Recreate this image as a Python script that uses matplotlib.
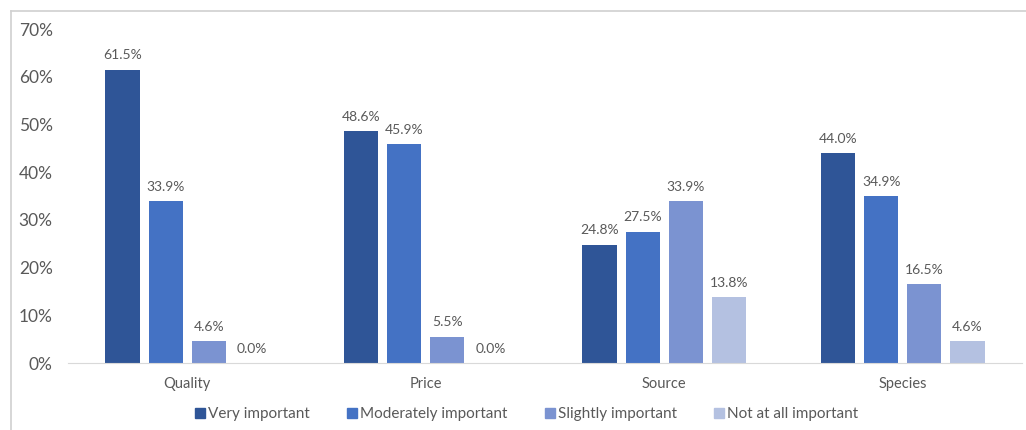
import numpy as np
import matplotlib.pyplot as plt
from matplotlib.lines import Line2D

plt.rcParams['font.family'] = ['Lato', 'DejaVu Sans']

categories = ["Quality", "Price", "Source", "Species"]
series_names = ["Very important", "Moderately important",
                "Slightly important", "Not at all important"]
very = [61.5, 48.6, 24.8, 44.0]
moderately = [33.9, 45.9, 27.5, 34.9]
slightly = [4.6, 5.5, 33.9, 16.5]
not_at_all = [0.0, 0.0, 13.8, 4.6]
y_ticks = [0, 10, 20, 30, 40, 50, 60, 70]

colors = ["#2F5597", "#4472C4", "#7B93D1", "#B4C1E1"]
text_grey = "#595959"

W, H = 1026, 430
fig = plt.figure(figsize=(W / 100, H / 100), dpi=100)
ax = fig.add_axes([68 / W, 1 - 363 / H, (1022 - 68) / W, (363 - 29) / H])

x = np.arange(len(categories))
width = 0.143
step = 0.181
offsets = (np.arange(4) - 1.5) * step

for vals, off, col, name in zip([very, moderately, slightly, not_at_all],
                                offsets, colors, series_names):
    bars = ax.bar(x + off, vals, width, color=col, label=name, zorder=2)
    for b, v in zip(bars, vals):
        ax.annotate(f"{v:.1f}%", (b.get_x() + b.get_width() / 2, v),
                    xytext=(0, 6), textcoords="offset points",
                    ha="center", va="bottom", fontsize=10, color=text_grey)

ax.set_xlim(-0.5, len(categories) - 0.5)
ax.set_ylim(0, 70)
ax.set_yticks(y_ticks)
ax.set_yticklabels([f"{t}%" for t in y_ticks], fontsize=12.5, color=text_grey)
ax.set_xticks(x)
ax.set_xticklabels(categories, fontsize=10.5, color=text_grey)
ax.tick_params(axis="both", length=0)
ax.tick_params(axis="y", pad=11)
ax.tick_params(axis="x", pad=10)

for side in ["top", "right", "left"]:
    ax.spines[side].set_visible(False)
ax.spines["bottom"].set_color("#D9D9D9")

handles = [Line2D([0], [0], marker="s", linestyle="none", markersize=7,
                  markerfacecolor=c, markeredgecolor=c) for c in colors]
fig.legend(handles, series_names, loc="center", bbox_to_anchor=(526 / W, 1 - 414 / H),
           ncol=4, frameon=False, fontsize=11, labelcolor=text_grey,
           handletextpad=0.1, columnspacing=2.4, handlelength=0.8)

# outer frame lines (top and left)
fig.add_artist(Line2D([11 / W, 1], [1 - 11 / H, 1 - 11 / H], color="#D0D0D0", lw=1.2))
fig.add_artist(Line2D([11 / W, 11 / W], [0, 1 - 11 / H], color="#D0D0D0", lw=1.2))

fig.savefig("out.png", dpi=100, facecolor="white")
